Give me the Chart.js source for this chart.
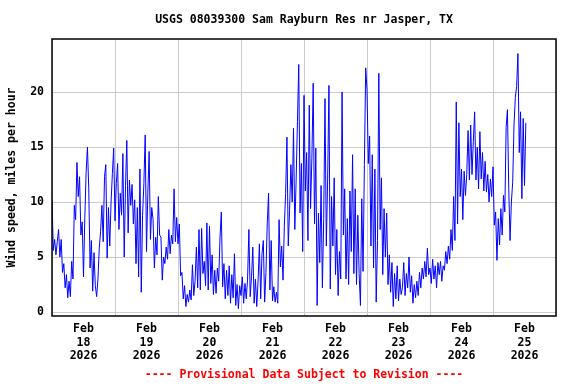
<!DOCTYPE html>
<html>
<head>
<meta charset="utf-8">
<script src="https://cdn.jsdelivr.net/npm/chart.js@4"></script>
<style>
  html, body { margin: 0; padding: 0; background: #fff; }
  canvas { display: block; }
</style>
</head>
<body>
<canvas id="chart" width="576" height="384"></canvas>
<script>
var chartTitle = 'USGS 08039300 Sam Rayburn Res nr Jasper, TX';
var yTitle = 'Wind speed, miles per hour';
var footNote = '---- Provisional Data Subject to Revision ----';
var month = 'Feb';
var year = '2026';
var dayLabels = ['18', '19', '20', '21', '22', '23', '24', '25'];
var yTicks = [0, 5, 10, 15, 20];
var stepHours = 0.5; // one reading every 30 min, starting at midnight of each day

// wind speed, mph
var feb18 = [10.2, 5.6, 6.6, 5.2, 6.4, 7.5, 5.0, 6.6, 3.6, 4.4, 2.2, 3.4, 1.3, 2.8, 1.4, 4.6,
  3.0, 9.7, 8.4, 13.6, 10.5, 12.3, 7.0, 8.2, 3.2, 8.6, 12.7, 15.0, 11.2, 4.0, 6.5, 1.9,
  5.4, 2.4, 1.4, 3.0, 5.8, 7.3, 9.7, 6.4, 12.3, 13.4, 4.9, 9.5, 6.0, 10.0, 12.6, 14.9];
var feb19 = [8.3, 11.7, 13.5, 7.5, 10.8, 8.8, 14.4, 5.0, 11.5, 15.6, 7.2, 12.0, 9.7, 11.6, 8.0, 10.2,
  4.4, 9.5, 3.2, 13.0, 1.8, 8.8, 11.7, 16.1, 5.5, 10.8, 14.6, 6.6, 9.5, 8.4, 4.0, 6.8,
  5.2, 10.5, 7.0, 6.8, 2.9, 5.0, 4.4, 5.9, 4.8, 7.5, 5.3, 7.0, 6.2, 11.2, 6.4, 8.6];
var feb20 = [6.2, 8.0, 3.3, 3.6, 1.2, 2.4, 0.5, 1.6, 0.9, 2.0, 1.1, 4.3, 1.5, 2.8, 5.9, 2.2,
  7.5, 2.0, 7.6, 3.5, 4.6, 2.4, 8.1, 2.0, 7.8, 2.6, 5.2, 1.6, 3.8, 1.7, 4.0, 2.8,
  6.8, 9.1, 2.3, 4.4, 1.2, 3.8, 1.5, 4.2, 0.8, 3.4, 1.3, 5.3, 0.6, 2.5, 0.3, 2.4];
var feb21 = [1.5, 3.2, 0.8, 2.6, 1.2, 3.0, 7.5, 1.4, 3.2, 5.9, 0.8, 3.0, 0.5, 2.8, 6.2, 1.2,
  5.3, 6.5, 0.9, 3.6, 8.1, 10.8, 2.0, 6.5, 1.0, 2.3, 0.9, 1.8, 0.8, 8.4, 4.1, 6.0,
  2.9, 7.8, 10.8, 15.9, 6.0, 9.2, 13.4, 10.0, 16.7, 7.5, 12.0, 17.3, 22.5, 9.0, 13.5, 5.5];
var feb22 = [19.7, 11.0, 14.5, 6.5, 18.8, 9.4, 14.0, 20.8, 8.0, 14.9, 0.6, 9.0, 4.5, 11.5, 2.2, 8.5,
  19.4, 6.0, 12.0, 20.6, 2.1, 10.5, 6.0, 12.2, 3.4, 7.5, 1.5, 5.5, 3.0, 20.0, 7.0, 11.2,
  3.0, 8.5, 2.5, 11.0, 5.5, 14.3, 3.5, 11.2, 2.5, 8.8, 3.5, 0.6, 10.3, 3.7, 13.4, 22.2];
var feb23 = [20.2, 13.5, 16.0, 6.0, 14.3, 4.0, 13.0, 0.9, 6.5, 21.7, 7.5, 12.2, 3.4, 9.4, 5.0, 9.0,
  2.5, 5.2, 1.8, 4.5, 0.5, 3.5, 1.2, 4.2, 1.0, 3.0, 1.6, 2.2, 4.5, 1.5, 3.5, 2.2,
  5.0, 1.8, 3.3, 0.8, 2.5, 1.3, 2.8, 1.5, 3.6, 2.2, 4.0, 3.0, 4.6, 3.2, 5.8, 3.4];
var feb24 = [4.0, 2.6, 4.8, 3.0, 4.2, 2.2, 4.5, 3.4, 4.6, 2.8, 4.2, 3.8, 5.5, 4.4, 6.0, 4.8,
  7.5, 5.6, 10.5, 6.5, 19.1, 8.0, 17.2, 10.5, 13.0, 8.4, 12.8, 10.6, 12.5, 16.5, 12.0, 17.0,
  12.5, 15.5, 18.2, 12.0, 15.0, 11.2, 16.4, 12.1, 14.5, 11.0, 13.7, 10.9, 12.5, 10.0, 12.1, 10.5];
var feb25 = [13.2, 7.9, 9.1, 4.7, 8.5, 6.1, 9.4, 7.0, 10.6, 9.1, 16.8, 18.4, 11.2, 6.5, 10.0, 11.8,
  17.0, 19.5, 20.5, 23.5, 14.5, 18.2, 10.3, 17.6, 11.5, 17.2];

var days = [feb18, feb19, feb20, feb21, feb22, feb23, feb24, feb25];

var points = [];
days.forEach(function (vals, d) {
  vals.forEach(function (v, i) {
    points.push({ x: d * 24 + i * stepHours, y: v });
  });
});

var FONT = { family: '"DejaVu Sans Mono", monospace', size: 11.5, weight: 'bold', lineHeight: 1.2 };
var GRID = '#cccccc';

// black box round the plot area, title above it and the red note under the axis,
// both centred on the plot rather than the canvas
var frame = {
  id: 'frame',
  afterDraw: function (chart) {
    var a = chart.chartArea, ctx = chart.ctx;
    var mid = (a.left + a.right) / 2;
    ctx.save();
    ctx.strokeStyle = '#000';
    ctx.lineWidth = 1.5;
    ctx.strokeRect(a.left, a.top, a.right - a.left, a.bottom - a.top);
    ctx.font = 'bold 11.5px "DejaVu Sans Mono", monospace';
    ctx.textAlign = 'center';
    ctx.textBaseline = 'middle';
    ctx.fillStyle = '#000';
    ctx.fillText(chartTitle, mid, 20);
    ctx.fillStyle = '#ff0000';
    ctx.fillText(footNote, mid, 375);
    ctx.restore();
  }
};

new Chart(document.getElementById('chart').getContext('2d'), {
  type: 'line',
  data: {
    datasets: [{
      data: points,
      borderColor: '#0000ff',
      borderWidth: 1,
      pointRadius: 0,
      tension: 0,
      fill: false
    }]
  },
  options: {
    responsive: false,
    animation: false,
    layout: { padding: { top: 39, right: 20, bottom: 0, left: 0 } },
    plugins: {
      legend: { display: false },
      tooltip: { enabled: false }
    },
    scales: {
      x: {
        type: 'linear',
        min: 0,
        max: days.length * 24,
        afterBuildTicks: function (s) {
          var t = [];
          for (var h = 0; h <= days.length * 24; h += 12) t.push({ value: h });
          s.ticks = t;
        },
        afterFit: function (s) { s.height = 68; },
        grid: {
          drawTicks: false,
          color: function (c) { return c.tick && c.tick.value % 24 === 0 ? GRID : 'rgba(0,0,0,0)'; }
        },
        border: { display: false },
        ticks: {
          autoSkip: false, maxRotation: 0, padding: 6, color: '#000', font: FONT,
          callback: function (v) {
            if (v % 24 !== 12) return '';
            return [month, dayLabels[(v - 12) / 24], year];
          }
        }
      },
      y: {
        min: -0.36,
        max: 24.82,
        afterBuildTicks: function (s) {
          s.ticks = yTicks.map(function (v) { return { value: v }; });
        },
        afterFit: function (s) { s.width = 52; },
        grid: { drawTicks: false, color: GRID },
        border: { display: false },
        ticks: { padding: 8, color: '#000', font: FONT },
        title: {
          display: true, text: yTitle, color: '#000', font: FONT,
          padding: { top: 5, bottom: 0 }
        }
      }
    }
  },
  plugins: [frame]
});
</script>
</body>
</html>
